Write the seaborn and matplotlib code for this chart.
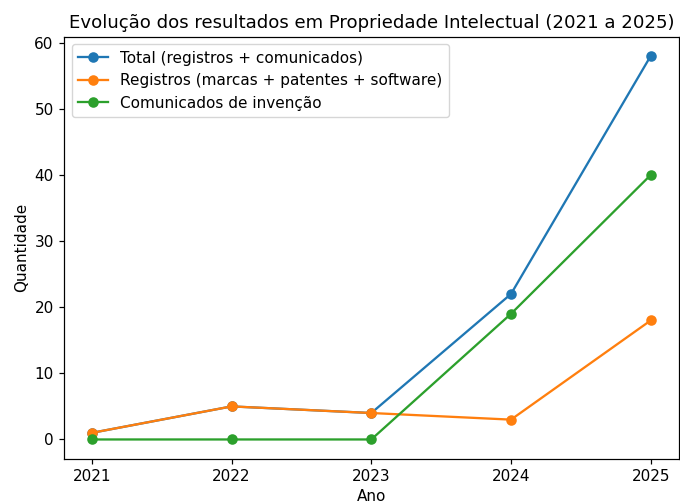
import matplotlib
matplotlib.use("Agg")
import matplotlib.pyplot as plt
import seaborn as sns
import pandas as pd

anos = [2021, 2022, 2023, 2024, 2025]
total = [1, 5, 4, 22, 58]
registros = [1, 5, 4, 3, 18]
comunicados = [0, 0, 0, 19, 40]

series = {
    "Total (registros + comunicados)": total,
    "Registros (marcas + patentes + software)": registros,
    "Comunicados de invenção": comunicados,
}
rows = []
for nome, vals in series.items():
    for a, v in zip(anos, vals):
        rows.append({"Ano": a, "Quantidade": v, "Série": nome})
df = pd.DataFrame(rows)

s = 1.1
plt.rcParams.update({
    "font.size": 10 * s,
    "axes.linewidth": 0.8 * s,
    "xtick.major.size": 3.5 * s,
    "ytick.major.size": 3.5 * s,
    "xtick.major.width": 0.8 * s,
    "ytick.major.width": 0.8 * s,
})

fig = plt.figure(figsize=(6.8, 5.04), dpi=100)
ax = fig.add_axes([0.094, 0.090, 0.904, 0.837])
sns.lineplot(data=df, x="Ano", y="Quantidade", hue="Série", marker="o",
             markersize=7.6, markeredgewidth=0, palette=["#1f77b4", "#ff7f0e", "#2ca02c"],
             ax=ax, linewidth=1.5 * s)
ax.set_xticks(anos)
ax.set_title("Evolução dos resultados em Propriedade Intelectual (2021 a 2025)", fontsize=13.1)
ax.set_xlabel("Ano")
ax.set_ylabel("Quantidade")
ax.legend(loc="upper left", title=None)
fig.savefig("out.png", dpi=100)
